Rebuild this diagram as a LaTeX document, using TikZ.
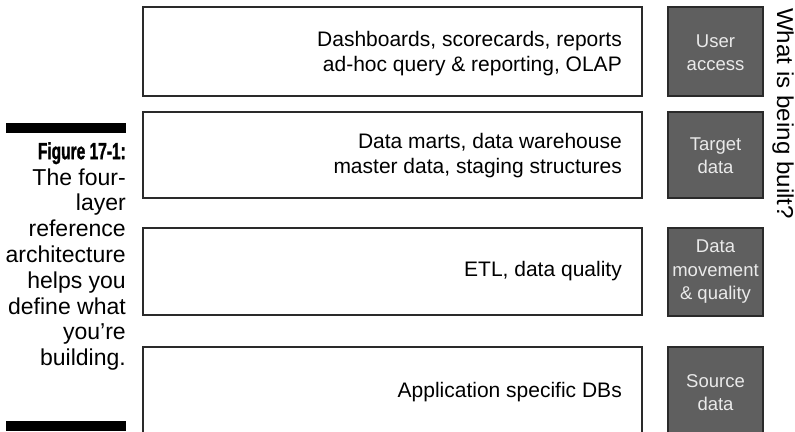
\documentclass[tikz,border=0pt]{standalone}
\usepackage{fontspec}
\setmainfont{Liberation Sans}
\newfontfamily\vertfont[FakeStretch=1.05]{Liberation Sans}
\newfontfamily\figfont[FakeStretch=0.66,FakeBold=1.2]{Liberation Sans Bold}
\definecolor{boxline}{HTML}{2A2A2A}
\definecolor{darkfill}{HTML}{5F5F5F}
\definecolor{lighttext}{HTML}{EAEAEA}
\begin{document}
\begin{tikzpicture}[x=1pt,y=-1pt,
  layerbox/.style={draw=boxline,line width=1.3pt,fill=white},
  tagbox/.style={draw=boxline,line width=1.3pt,fill=darkfill},
  layertext/.style={anchor=east,align=right,inner sep=0pt,font=\fontsize{21}{25}\selectfont,text=black},
  tagtext/.style={align=center,inner sep=0pt,font=\fontsize{18.5}{23.5}\selectfont,text=lighttext},
  captext/.style={anchor=north east,align=right,inner sep=0pt,font=\fontsize{23}{25.8}\selectfont}
]
\clip (0,0) rectangle (795,431);
\fill[white] (0,0) rectangle (795,431);
% white layer boxes
\draw[layerbox] (143,7) rectangle (642,96);
\draw[layerbox] (143,112) rectangle (642,198);
\draw[layerbox] (143,228) rectangle (642,315);
\draw[layerbox] (143,347) rectangle (642,445);
\node[layertext] (t1) at (622,54) {Dashboards, scorecards, reports\\ad-hoc query \& reporting, OLAP};
\node[layertext] (t2) at (622,155.5) {Data marts, data warehouse\\master data, staging structures};
\node[layertext] (t3) at (622,271.5) {ETL, data quality};
\node[layertext] (t4) at (622,392) {Application specific DBs};
% dark tag boxes
\draw[tagbox] (668,7) rectangle (763,96);
\draw[tagbox] (668,112) rectangle (763,198);
\draw[tagbox] (668,228) rectangle (763,316);
\draw[tagbox] (668,347) rectangle (763,445);
\node[tagtext] (d1) at (715.5,52.5) {User\\access};
\node[tagtext] (d2) at (715.5,155.5) {Target\\data};
\node[tagtext] (d3) at (715.5,272) {Data\\movement\\\& quality};
\node[tagtext] (d4) at (715.5,392.5) {Source\\data};
% vertical label
\node[rotate=-90,anchor=base west,inner sep=0pt,font=\vertfont\fontsize{23}{24}\selectfont] (q) at (777,8) {What is being built?};
% caption
\fill (6,123) rectangle (126,133);
\fill (6,421) rectangle (126,431);
\node[captext] (cap) at (126,142) {{\figfont\fontsize{23.5}{25.8}\selectfont Figure 17-1:}\\The four-\\layer\\reference\\architecture\\helps you\\define what\\you’re\\building.};
\end{tikzpicture}
\end{document}
